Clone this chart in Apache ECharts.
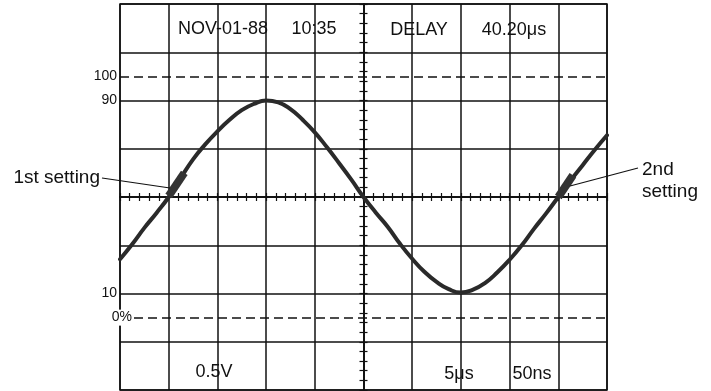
<!DOCTYPE html>
<html>
<head>
<meta charset="utf-8">
<script src="https://cdn.jsdelivr.net/npm/echarts@6/dist/echarts.min.js"></script>
<style>
html, body { margin: 0; padding: 0; background: #fff; }
#main { width: 711px; height: 391px; }
</style>
</head>
<body>
<div id="main"></div>
<script>
// trace, in divisions (x -5..5, y -4..4)
var traceX = [-5, -4.75, -4.5, -4.25, -4, -3.75, -3.5, -3.25, -3, -2.75, -2.5, -2.25, -2, -1.75, -1.5, -1.25, -1, -0.75, -0.5, -0.25,
              0, 0.25, 0.5, 0.75, 1, 1.25, 1.5, 1.75, 2, 2.25, 2.5, 2.75, 3, 3.25, 3.5, 3.75, 4, 4.25, 4.5, 4.75, 5];
var traceY = [-1.29, -0.98, -0.64, -0.33, 0, 0.40, 0.78, 1.09, 1.36, 1.60, 1.80, 1.93, 2.0, 1.96, 1.82, 1.60, 1.34, 1.03, 0.70, 0.36,
              0, -0.32, -0.62, -0.97, -1.28, -1.55, -1.76, -1.91, -1.98, -1.92, -1.78, -1.56, -1.30, -1.00, -0.66, -0.34, 0, 0.34, 0.66, 0.98, 1.28];
// the two thick "setting" pieces of the trace
var set1X = [-4.0, -3.68];
var set1Y = [0.02, 0.5];
var set2X = [4.0, 4.3];
var set2Y = [0.0, 0.45];
// level labels on the left
var levelValues = [2.5, 2, -2];
var levelText = ['100', '90', '10'];
var zeroLevel = -2.5;
var zeroText = '0%';
// dashed 0% / 100% lines
var dashLevels = [2.5, -2.5];

function pairs(xs, ys) {
    var out = [];
    for (var i = 0; i < xs.length; i++) out.push([xs[i], ys[i]]);
    return out;
}

var ink = '#111';
var font = '"Liberation Sans", Arial, sans-serif';
var myChart = echarts.init(document.getElementById('main'));

var tickAxisX = function (pos) {
    return {
        type: 'value', min: -5, max: 5, interval: 1, position: pos,
        axisLine: { show: true, onZero: true, onZeroAxisIndex: 1, lineStyle: { color: ink, width: 1.5 } },
        axisTick: { show: true, length: 4, lineStyle: { color: ink, width: 1.2 } },
        minorTick: { show: true, splitNumber: 5, length: 4, lineStyle: { color: ink, width: 1.2 } },
        axisLabel: { show: false },
        splitLine: { show: false }
    };
};
var tickAxisY = function (pos) {
    return {
        type: 'value', min: -4, max: 4, interval: 1, position: pos,
        axisLine: { show: true, onZero: true, onZeroAxisIndex: 0, lineStyle: { color: ink, width: 1.5 } },
        axisTick: { show: true, length: 4, lineStyle: { color: ink, width: 1.2 } },
        minorTick: { show: true, splitNumber: 5, length: 4, lineStyle: { color: ink, width: 1.2 } },
        axisLabel: { show: false },
        splitLine: { show: false }
    };
};

var dashData = dashLevels.map(function (v) {
    var d = { yAxis: v, label: { show: false } };
    if (v === zeroLevel) {
        d.label = {
            show: true, position: 'start', formatter: zeroText, distance: -13,
            color: ink, fontSize: 14, fontFamily: font,
            backgroundColor: '#fff', padding: [1, 1]
        };
    }
    return d;
});

var txt = function (s, x, y, align, size) {
    return {
        type: 'text', x: x, y: y, z: 100,
        style: {
            text: s, fill: ink, font: (size || 18) + 'px ' + font,
            textAlign: align || 'center', textVerticalAlign: 'middle'
        }
    };
};

var option = {
    animation: false,
    backgroundColor: '#fff',
    grid: {
        left: 120, right: 104, top: 4, bottom: 1,
        show: true, borderColor: ink, borderWidth: 1.5
    },
    xAxis: [
        {
            type: 'value', min: -5, max: 5, interval: 1, position: 'bottom',
            axisLine: { show: false, onZero: false },
            axisTick: { show: false },
            axisLabel: { show: false },
            splitLine: { show: true, lineStyle: { color: ink, width: 1.5 } }
        },
        tickAxisX('bottom'),
        tickAxisX('top')
    ],
    yAxis: [
        {
            type: 'value', min: -4, max: 4, interval: 0.5, position: 'left',
            axisLine: { show: false, onZero: false },
            axisTick: { show: false },
            splitLine: { show: false },
            axisLabel: {
                show: true, margin: 3, color: ink, fontSize: 14, fontFamily: font,
                formatter: function (v) {
                    var i = levelValues.indexOf(v);
                    return i >= 0 ? levelText[i] : '';
                }
            }
        },
        {
            type: 'value', min: -4, max: 4, interval: 1, position: 'left',
            axisLine: { show: false, onZero: false },
            axisTick: { show: false },
            axisLabel: { show: false },
            splitLine: { show: true, lineStyle: { color: ink, width: 1.5 } }
        },
        tickAxisY('left'),
        tickAxisY('right')
    ],
    series: [
        {
            type: 'line', xAxisIndex: 0, yAxisIndex: 1,
            data: [], symbol: 'none', silent: true,
            markLine: {
                silent: true, symbol: 'none',
                lineStyle: { color: ink, width: 1.5, type: [9, 5] },
                data: dashData
            }
        },
        {
            type: 'line', xAxisIndex: 0, yAxisIndex: 1, z: 5,
            data: pairs(traceX, traceY),
            smooth: 0.5, symbol: 'none', silent: true,
            lineStyle: { color: '#2a2a2a', width: 4, join: 'round', cap: 'round' }
        },
        {
            type: 'line', xAxisIndex: 0, yAxisIndex: 1, z: 6,
            data: pairs(set1X, set1Y), symbol: 'none', silent: true,
            lineStyle: { color: '#333', width: 8 }
        },
        {
            type: 'line', xAxisIndex: 0, yAxisIndex: 1, z: 6,
            data: pairs(set2X, set2Y), symbol: 'none', silent: true,
            lineStyle: { color: '#333', width: 8 }
        }
    ],
    graphic: [
        txt('NOV-01-88', 223, 29),
        txt('10:35', 314, 29),
        txt('DELAY', 419, 30),
        txt('40.20\u03bcs', 514, 30),
        txt('0.5V', 214, 372),
        txt('5\u03bcs', 459, 374),
        txt('50ns', 532, 374),
        txt('1st setting', 100, 178, 'right', 19),
        txt('2nd', 642, 170, 'left', 19),
        txt('setting', 642, 192, 'left', 19),
        { type: 'line', z: 100, shape: { x1: 102, y1: 178, x2: 170, y2: 188 }, style: { stroke: ink, lineWidth: 1.2 } },
        { type: 'line', z: 100, shape: { x1: 570, y1: 186, x2: 638, y2: 168 }, style: { stroke: ink, lineWidth: 1.2 } }
    ]
};
myChart.setOption(option);
</script>
</body>
</html>
